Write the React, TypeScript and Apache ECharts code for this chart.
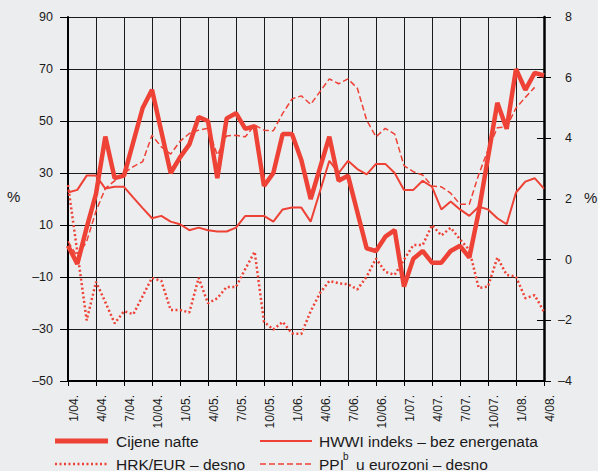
import React, { useEffect, useRef } from "react";
import * as echarts from "echarts";

const categories = [
  "1/04.", "2/04.", "3/04.", "4/04.", "5/04.", "6/04.", "7/04.", "8/04.", "9/04.", "10/04.", "11/04.", "12/04.",
  "1/05.", "2/05.", "3/05.", "4/05.", "5/05.", "6/05.", "7/05.", "8/05.", "9/05.", "10/05.", "11/05.", "12/05.",
  "1/06.", "2/06.", "3/06.", "4/06.", "5/06.", "6/06.", "7/06.", "8/06.", "9/06.", "10/06.", "11/06.", "12/06.",
  "1/07.", "2/07.", "3/07.", "4/07.", "5/07.", "6/07.", "7/07.", "8/07.", "9/07.", "10/07.", "11/07.", "12/07.",
  "1/08.", "2/08.", "3/08.", "4/08.",
];

// Cijene nafte (left axis, %)
const oilPrices = [
  2, -5, 9, 22, 44, 28, 29, 42, 55, 62, 46, 30,
  36, 41, 51.5, 50, 28, 51, 53, 47, 48, 25, 30, 45,
  45, 35, 20, 32, 44, 27, 29, 15, 1, 0, 5.5, 8,
  -13.7, -3, 0, -4.5, -4.5, 0, 2, -2.5, 15, 36, 57, 47,
  70, 62, 68.5, 67.5,
];

// HWWI indeks – bez energenata (left axis, %)
const hwwiIndex = [
  22.5, 23.5, 29, 29, 24, 24.7, 24.7, 20.5, 16.5, 12.6, 13.5, 11.3,
  10.3, 8, 9, 8, 7.5, 7.5, 9, 13.5, 13.5, 13.5, 11.3, 16,
  16.7, 16.7, 11.3, 23, 34.7, 30, 34.7, 31.5, 29.5, 33.5, 33.5, 30,
  23.5, 23.5, 27, 24.7, 16, 19, 16, 13.5, 17, 16, 12.6, 10.3,
  22.5, 26.7, 28, 24,
];

// HRK/EUR – desno (right axis, %)
const hrkEur = [
  2.46, 0.25, -2.0, -0.73, -1.4, -2.1, -1.7, -1.8, -1.2, -0.6, -0.7, -1.66,
  -1.66, -1.74, -0.6, -1.44, -1.27, -0.9, -0.9, -0.3, 0.26, -2.05, -2.3, -2.05,
  -2.43, -2.45, -1.7, -1.1, -0.7, -0.78, -0.81, -0.98, -0.56, 0.04, -0.4, -0.5,
  0, 0.48, 0.48, 1.14, 0.8, 1.05, 0.67, 0.32, -0.93, -0.89, 0.07, -0.5,
  -0.56, -1.27, -1.17, -1.72,
];

// PPI u eurozoni – desno (right axis, %)
const ppiEurozone = [
  0.6, 0.1, 0.6, 1.6, 2.35, 2.6, 2.85, 3.07, 3.23, 4.1, 3.72, 3.48,
  3.9, 4.16, 4.27, 4.33, 3.45, 4.08, 4.1, 4.05, 4.44, 4.27, 4.25, 4.82,
  5.3, 5.4, 5.12, 5.54, 5.96, 5.8, 5.96, 5.65, 4.6, 4.05, 4.33, 4.14,
  3.1, 2.9, 2.79, 2.43, 2.4, 2.19, 1.83, 1.83, 2.8, 3.62, 4.35, 4.38,
  5.0, 5.35, 5.68, null,
];

const RED = "#EE4236";
const FONT = "'Liberation Sans', Arial, sans-serif";
const TXT = "#1a1a1a";
const dash = (v: number) => String(v).replace("-", "\u2013");

export default function App() {
  const ref = useRef<HTMLDivElement>(null);

  useEffect(() => {
    if (!ref.current) return;
    const chart = echarts.init(ref.current, null, { renderer: "svg" });
    const rightAxisBase = {
      type: "value",
      position: "right",
      min: -4,
      max: 8,
      interval: 2,
      splitLine: { show: false },
    };
    chart.setOption({
      animation: false,
      backgroundColor: "#ECEDEF",
      textStyle: { fontFamily: FONT },
      grid: { left: 68, right: 54, top: 17, bottom: 90, containLabel: false },
      xAxis: {
        type: "category",
        data: categories,
        boundaryGap: false,
        axisLine: { onZero: false, lineStyle: { color: "#000", width: 2 } },
        axisTick: { interval: 2, length: 5, lineStyle: { color: "#000", width: 1 } },
        axisLabel: {
          interval: 2,
          rotate: 90,
          margin: 14,
          fontSize: 12,
          color: TXT,
          fontFamily: FONT,
          verticalAlign: "top",
        },
        splitLine: { show: true, interval: 2, lineStyle: { color: "#1a1a1a", width: 1 } },
      },
      yAxis: [
        {
          type: "value",
          position: "left",
          min: -50,
          max: 90,
          interval: 20,
          axisLine: { show: true, onZero: false, lineStyle: { color: "#000", width: 2 } },
          axisTick: { show: true, length: 8, lineStyle: { color: "#000", width: 1 } },
          axisLabel: { margin: 15, fontSize: 12.5, color: TXT, fontFamily: FONT, formatter: dash },
          splitLine: { show: true, lineStyle: { color: "#1a1a1a", width: 1 } },
        },
        {
          ...rightAxisBase,
          axisLine: { show: true, onZero: false, lineStyle: { color: "#000", width: 2.5 } },
          axisTick: { show: true, length: 7, lineStyle: { color: "#000", width: 1 } },
          axisLabel: { margin: 28, align: "right", fontSize: 12.5, color: TXT, fontFamily: FONT, formatter: dash },
        },
        {
          ...rightAxisBase,
          axisLine: { show: false, onZero: false },
          axisTick: { show: true, inside: true, length: 7, lineStyle: { color: "#000", width: 1 } },
          axisLabel: { show: false },
        },
      ],
      series: [
        {
          name: "HWWI indeks – bez energenata",
          type: "line",
          yAxisIndex: 0,
          data: hwwiIndex,
          symbol: "none",
          lineStyle: { color: RED, width: 2 },
        },
        {
          name: "HRK/EUR – desno",
          type: "line",
          yAxisIndex: 1,
          data: hrkEur,
          symbol: "none",
          lineStyle: { color: RED, width: 2.5, type: [2, 2.5] },
        },
        {
          name: "PPI u eurozoni – desno",
          type: "line",
          yAxisIndex: 1,
          data: ppiEurozone,
          symbol: "none",
          lineStyle: { color: RED, width: 1.5, type: [6, 3] },
        },
        {
          name: "Cijene nafte",
          type: "line",
          yAxisIndex: 0,
          data: oilPrices,
          symbol: "none",
          lineStyle: { color: RED, width: 4.5 },
        },
      ],
      graphic: [
        { type: "text", left: 7, top: 189, style: { text: "%", fontSize: 15, fill: TXT, fontFamily: FONT } },
        { type: "text", left: 584, top: 190, style: { text: "%", fontSize: 15, fill: TXT, fontFamily: FONT } },
        { type: "line", shape: { x1: 55, y1: 441, x2: 108, y2: 441 }, style: { stroke: RED, lineWidth: 5 } },
        { type: "text", x: 116, y: 441, style: { text: "Cijene nafte", fontSize: 15.5, fill: TXT, fontFamily: FONT, verticalAlign: "middle" } },
        { type: "line", shape: { x1: 260, y1: 441, x2: 312, y2: 441 }, style: { stroke: RED, lineWidth: 2 } },
        { type: "text", x: 319, y: 441, style: { text: "HWWI indeks – bez energenata", fontSize: 15.5, fill: TXT, fontFamily: FONT, verticalAlign: "middle" } },
        { type: "line", shape: { x1: 55, y1: 464, x2: 108, y2: 464 }, style: { stroke: RED, lineWidth: 2.5, lineDash: [2, 2.5] } },
        { type: "text", x: 116, y: 464, style: { text: "HRK/EUR – desno", fontSize: 15.5, fill: TXT, fontFamily: FONT, verticalAlign: "middle" } },
        { type: "line", shape: { x1: 260, y1: 464, x2: 312, y2: 464 }, style: { stroke: RED, lineWidth: 1.5, lineDash: [6, 3] } },
        { type: "text", x: 319, y: 464, style: { text: "PPI", fontSize: 15.5, fill: TXT, fontFamily: FONT, verticalAlign: "middle" } },
        { type: "text", x: 343, y: 456, style: { text: "b", fontSize: 10, fill: TXT, fontFamily: FONT, verticalAlign: "middle" } },
        { type: "text", x: 356, y: 464, style: { text: "u eurozoni – desno", fontSize: 15.5, fill: TXT, fontFamily: FONT, verticalAlign: "middle" } },
      ],
    });
    return () => chart.dispose();
  }, []);

  return (
    <div
      ref={ref}
      style={{ position: "fixed", left: 0, top: 0, width: 598, height: 471 }}
    />
  );
}
